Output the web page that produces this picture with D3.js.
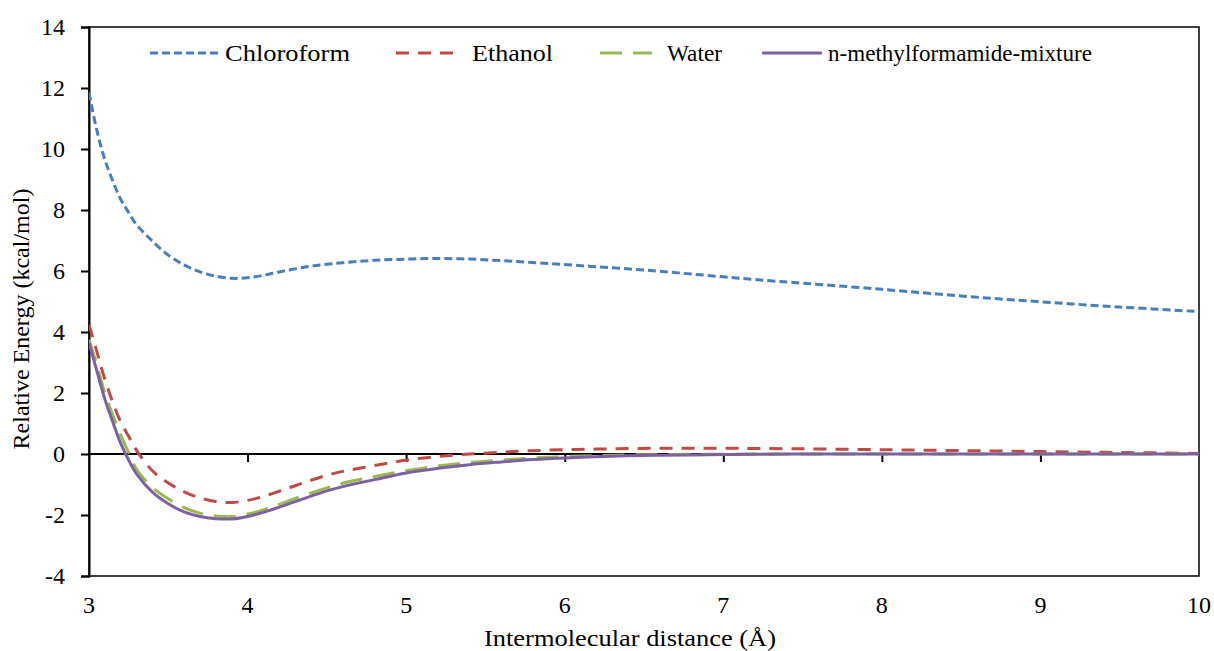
<!DOCTYPE html>
<html><head><meta charset="utf-8">
<script src="https://cdn.jsdelivr.net/npm/d3@7"></script>
<style>body{margin:0;background:#fff}</style>
</head><body><svg id="c" width="1214" height="651"></svg>
<script>
const distances = [3.0,3.05,3.1,3.15,3.2,3.25,3.3,3.4,3.5,3.6,3.7,3.8,3.9,4.0,4.1,4.2,4.3,4.4,4.5,4.6,4.8,5.0,5.2,5.4,5.6,5.8,6.0,6.2,6.4,6.6,6.8,7.0,7.2,7.5,8.0,8.5,9.0,9.5,10.0];
const chloroform = [11.85,10.6,9.65,8.95,8.35,7.92,7.52,6.98,6.52,6.2,5.97,5.83,5.76,5.78,5.86,5.97,6.07,6.16,6.22,6.27,6.35,6.39,6.41,6.39,6.34,6.28,6.21,6.14,6.07,5.99,5.9,5.81,5.72,5.6,5.4,5.18,4.99,4.82,4.67];
const ethanol = [4.24,3.35,2.45,1.7,1.05,0.58,0.12,-0.55,-0.95,-1.24,-1.44,-1.56,-1.59,-1.52,-1.39,-1.22,-1.04,-0.86,-0.7,-0.57,-0.38,-0.2,-0.08,0.0,0.06,0.11,0.14,0.16,0.18,0.19,0.19,0.19,0.18,0.17,0.14,0.11,0.08,0.05,0.02];
const water = [3.75,2.92,2.0,1.28,0.62,0.05,-0.5,-1.1,-1.47,-1.76,-1.94,-2.03,-2.05,-1.97,-1.83,-1.65,-1.46,-1.28,-1.11,-0.96,-0.74,-0.55,-0.39,-0.28,-0.2,-0.13,-0.08,-0.05,-0.03,-0.02,-0.01,-0.01,0,0,0,0,0,0,0];
const nmf = [3.64,2.72,1.8,1.05,0.35,-0.2,-0.65,-1.25,-1.63,-1.9,-2.05,-2.12,-2.13,-2.05,-1.91,-1.74,-1.56,-1.38,-1.21,-1.07,-0.84,-0.62,-0.47,-0.35,-0.26,-0.18,-0.13,-0.09,-0.06,-0.04,-0.03,-0.02,-0.01,0,0,0,0,0,0];
const seriesNames = ["Chloroform","Ethanol","Water","n-methylformamide-mixture"];
const xTicks = [3,4,5,6,7,8,9,10];
const yTicks = [-4,-2,0,2,4,6,8,10,12,14];

const FONT = '"Liberation Serif", serif';
const svg = d3.select("#c");
const L=89, R=1199, T=27, B=576;
const x = d3.scaleLinear().domain([3,10]).range([L,R]);
const y = d3.scaleLinear().domain([-4,14]).range([B,T]);

const styles = [
  {color:"#4A7EBB", dash:"8,4", w:3},
  {color:"#BE4B48", dash:"13,9", w:3},
  {color:"#98B954", dash:"22,11", w:3},
  {color:"#7D60A0", dash:null, w:3}
];
const data = [chloroform, ethanol, water, nmf];

// frame
svg.append("rect").attr("x",L).attr("y",T).attr("width",R-L).attr("height",B-T)
  .attr("fill","none").attr("stroke","#000").attr("stroke-width",1.5);

// y axis
const yAxis = d3.axisLeft(y).tickValues(yTicks).tickSize(8).tickPadding(16).tickFormat(d=>String(d));
const gy = svg.append("g").attr("transform",`translate(${L},0)`).call(yAxis);
gy.attr("font-family",FONT);
gy.select(".domain").attr("stroke-width",2);
gy.selectAll(".tick line").attr("stroke-width",2);
gy.selectAll("text").attr("font-size",24).attr("fill","#000").style("font-family",FONT);

// x axis on zero line
const xAxis = d3.axisBottom(x).tickValues(xTicks).tickSize(8).tickFormat("");
const gx = svg.append("g").attr("transform",`translate(0,${y(0)})`).call(xAxis);
gx.select(".domain").attr("stroke-width",2).attr("d",`M${L},0H${R}`);
gx.selectAll(".tick line").attr("stroke-width",2);
gx.selectAll(".tick").filter(d=>d===3||d===10).select("line").remove();

// x tick labels at bottom
svg.append("g").selectAll("text").data(xTicks).join("text")
  .attr("x",d=>x(d)).attr("y",613).attr("text-anchor","middle").attr("font-size",24)
  .style("font-family",FONT).attr("fill","#000").text(d=>d);

// lines
svg.append("clipPath").attr("id","pc").append("rect").attr("x",L).attr("y",T).attr("width",R-L).attr("height",B-T);
const line = d3.line().x((d,i)=>x(distances[i])).y(d=>y(d)).curve(d3.curveCatmullRom.alpha(0.5));
const g = svg.append("g").attr("clip-path","url(#pc)");
[0,1,2,3].forEach(i=>{
  g.append("path").datum(data[i]).attr("d",line).attr("fill","none")
    .attr("stroke",styles[i].color).attr("stroke-width",styles[i].w)
    .attr("stroke-dasharray",styles[i].dash);
});

// legend
const leg = [
  {x1:150,x2:222,tx:225,tl:125},
  {x1:396,x2:454,tx:472,tl:81},
  {x1:600,x2:652,tx:667,tl:55},
  {x1:762,x2:822,tx:828,tl:264}
];
leg.forEach((l,i)=>{
  svg.append("line").attr("x1",l.x1).attr("x2",l.x2).attr("y1",53).attr("y2",53)
    .attr("stroke",styles[i].color).attr("stroke-width",styles[i].w).attr("stroke-dasharray",styles[i].dash);
  svg.append("text").attr("x",l.tx).attr("y",61).attr("font-size",24).style("font-family",FONT)
    .attr("textLength",l.tl).attr("lengthAdjust","spacingAndGlyphs").attr("fill","#000").text(seriesNames[i]);
});

// axis titles
svg.append("text").attr("x",484).attr("y",646).attr("font-size",24).style("font-family",FONT)
  .attr("textLength",292).attr("lengthAdjust","spacingAndGlyphs").attr("fill","#000").text("Intermolecular distance (Å)");
svg.append("text").attr("transform","translate(29,319) rotate(-90)").attr("text-anchor","middle").attr("font-size",24)
  .style("font-family",FONT).attr("fill","#000").text("Relative Energy (kcal/mol)");
</script></body></html>
